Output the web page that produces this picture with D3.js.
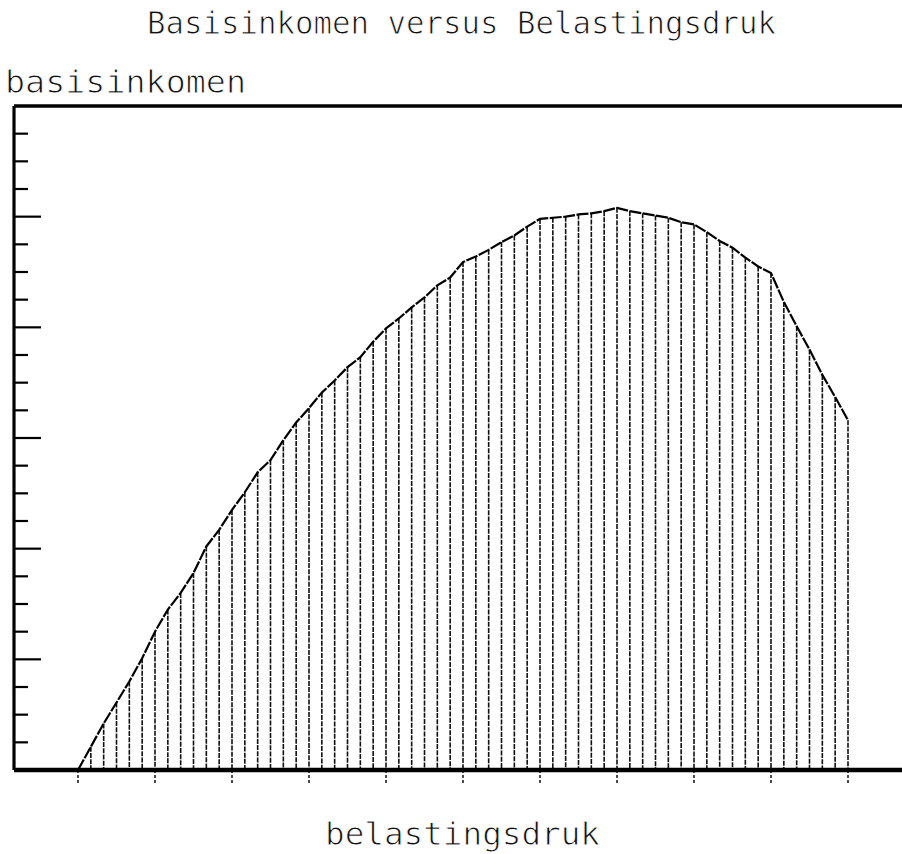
<!DOCTYPE html>
<html>
<head>
<meta charset="utf-8">
<script src="https://cdn.jsdelivr.net/npm/d3@7"></script>
<style>
  html, body { margin: 0; padding: 0; background: #fff; }
  svg { display: block; }
  text {
    font-family: "DejaVu Sans Mono", "Liberation Mono", monospace;
    fill: #111;
    stroke: #fff;
    stroke-width: 0.9px;
  }
</style>
</head>
<body>
<script>
// basisinkomen, one value per hatch line (61 steps, 6 per x tick)
const basisinkomen = [
  0.00, 0.21, 0.42, 0.61, 0.80, 1.01, 1.25, 1.45, 1.60, 1.78,
  2.02, 2.17, 2.35, 2.51, 2.69, 2.80, 2.98, 3.14, 3.27, 3.41,
  3.52, 3.64, 3.73, 3.87, 3.99, 4.08, 4.18, 4.27, 4.38, 4.45,
  4.59, 4.64, 4.70, 4.77, 4.83, 4.91, 4.98, 4.99, 5.00, 5.02,
  5.03, 5.05, 5.08, 5.05, 5.03, 5.01, 4.99, 4.95, 4.93, 4.86,
  4.78, 4.72, 4.63, 4.55, 4.49, 4.23, 4.01, 3.80, 3.57, 3.37,
  3.16
];
const xTickSteps = [0, 6, 12, 18, 24, 30, 36, 42, 48, 54, 60];
const yMinorTicks = [0.25, 0.5, 0.75, 1.25, 1.5, 1.75, 2.25, 2.5, 2.75, 3.25, 3.5, 3.75,
  4.25, 4.5, 4.75, 5.25, 5.5, 5.75];
const yMajorTicks = [1, 2, 3, 4, 5];
const title = 'Basisinkomen versus Belastingsdruk';
const yTitle = 'basisinkomen';
const xTitle = 'belastingsdruk';

const width = 902, height = 854;
const axisLeft = 14, axisRight = 902;
const plotTop = 106, plotBottom = 770;

const svg = d3.select('body').append('svg')
  .attr('width', width)
  .attr('height', height);

const steps = d3.range(basisinkomen.length);

const xScale = d3.scaleLinear().domain([0, 60]).range([78, 848]);
const yScale = d3.scaleLinear().domain([0, 6]).range([plotBottom, plotTop]);

// hatch lines under the curve
svg.append('g')
  .selectAll('line')
  .data(steps.filter(i => basisinkomen[i] > 0))
  .join('line')
  .attr('x1', i => xScale(i))
  .attr('x2', i => xScale(i))
  .attr('y1', i => yScale(basisinkomen[i]))
  .attr('y2', plotBottom)
  .attr('stroke', '#111')
  .attr('stroke-width', 1.6)
  .attr('stroke-dasharray', '5,1.2');

// the curve itself
const line = d3.line()
  .x(i => xScale(i))
  .y(i => yScale(basisinkomen[i]));

svg.append('path')
  .datum(steps)
  .attr('d', line)
  .attr('fill', 'none')
  .attr('stroke', '#000')
  .attr('stroke-width', 2.2)
  .attr('stroke-dasharray', '12,1.5');

// x ticks hanging below the axis
svg.append('g')
  .selectAll('line')
  .data(xTickSteps)
  .join('line')
  .attr('x1', d => xScale(d))
  .attr('x2', d => xScale(d))
  .attr('y1', plotBottom)
  .attr('y2', plotBottom + 13)
  .attr('stroke', '#111')
  .attr('stroke-width', 1.5)
  .attr('stroke-dasharray', '3,2');

// y ticks: short minors, long majors
svg.append('g')
  .selectAll('line')
  .data(yMinorTicks)
  .join('line')
  .attr('x1', axisLeft)
  .attr('x2', axisLeft + 14)
  .attr('y1', d => yScale(d))
  .attr('y2', d => yScale(d))
  .attr('stroke', '#000')
  .attr('stroke-width', 2.2);

svg.append('g')
  .selectAll('line')
  .data(yMajorTicks)
  .join('line')
  .attr('x1', axisLeft)
  .attr('x2', axisLeft + 27)
  .attr('y1', d => yScale(d))
  .attr('y2', d => yScale(d))
  .attr('stroke', '#000')
  .attr('stroke-width', 2.2);

// frame: top border, left axis, bottom axis
svg.append('line')
  .attr('x1', axisLeft).attr('x2', axisRight)
  .attr('y1', plotTop).attr('y2', plotTop)
  .attr('stroke', '#000').attr('stroke-width', 3.5);
svg.append('line')
  .attr('x1', axisLeft).attr('x2', axisLeft)
  .attr('y1', plotTop).attr('y2', plotBottom)
  .attr('stroke', '#000').attr('stroke-width', 3.2);
svg.append('line')
  .attr('x1', axisLeft).attr('x2', axisRight)
  .attr('y1', plotBottom).attr('y2', plotBottom)
  .attr('stroke', '#000').attr('stroke-width', 4.5);

// texts
svg.append('text')
  .attr('x', 147).attr('y', 34)
  .attr('font-size', 32)
  .attr('textLength', 629)
  .attr('lengthAdjust', 'spacingAndGlyphs')
  .text(title);

svg.append('text')
  .attr('x', 5).attr('y', 93)
  .attr('font-size', 32)
  .attr('textLength', 241)
  .attr('lengthAdjust', 'spacingAndGlyphs')
  .text(yTitle);

svg.append('text')
  .attr('x', 325).attr('y', 845)
  .attr('font-size', 32)
  .attr('textLength', 275)
  .attr('lengthAdjust', 'spacingAndGlyphs')
  .text(xTitle);
</script>
</body>
</html>
